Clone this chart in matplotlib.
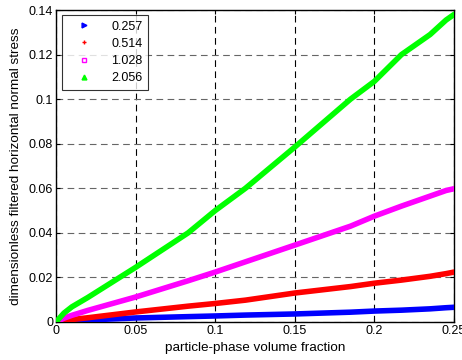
import matplotlib
matplotlib.use("Agg")
import matplotlib.pyplot as plt
from matplotlib.lines import Line2D

plt.rcParams['font.family'] = ['Liberation Sans', 'DejaVu Sans']

phi = [0, 0.005, 0.01, 0.02, 0.05, 0.083, 0.1, 0.119, 0.15, 0.185, 0.2, 0.217, 0.235, 0.245, 0.25]
s_0257 = [0, 0.0003, 0.0006, 0.0009, 0.0018, 0.0024, 0.0027, 0.0031, 0.0036, 0.0044, 0.0049, 0.0053, 0.0059, 0.0064, 0.0066]
s_0514 = [0, 0.0006, 0.0011, 0.0019, 0.0045, 0.0071, 0.0083, 0.0098, 0.013, 0.0159, 0.0174, 0.0188, 0.0205, 0.0217, 0.0224]
s_1028 = [0, 0.0017, 0.0030, 0.0052, 0.0112, 0.0185, 0.0224, 0.0270, 0.0345, 0.0430, 0.0475, 0.0520, 0.0565, 0.0590, 0.0598]
s_2056 = [0, 0.0040, 0.0068, 0.0110, 0.0245, 0.0400, 0.0500, 0.0600, 0.0785, 0.1000, 0.1080, 0.1200, 0.1290, 0.1355, 0.1380]
labels = ['0.257', '0.514', '1.028', '2.056']
colors = ['#0000ff', '#ff0000', '#ff00ff', '#00ff00']
markers = ['>', '+', 's', '^']

fig = plt.figure(figsize=(4.62, 3.6), dpi=100)
ax = fig.add_axes([0.1212, 0.1056, 0.8615, 0.8666])

series = [s_0257, s_0514, s_1028, s_2056]
for s, c in zip(series, colors):
    ax.plot(phi, s, color=c, lw=4.0, solid_capstyle='round', zorder=3)

ax.set_xlim(0, 0.25)
ax.set_ylim(0, 0.14)
ax.set_xticks([0, 0.05, 0.1, 0.15, 0.2, 0.25])
ax.set_xticklabels(['0', '0.05', '0.1', '0.15', '0.2', '0.25'])
ax.set_yticks([0, 0.02, 0.04, 0.06, 0.08, 0.1, 0.12, 0.14])
ax.set_yticklabels(['0', '0.02', '0.04', '0.06', '0.08', '0.1', '0.12', '0.14'])
ax.tick_params(direction='in', top=True, right=True, labelsize=9, length=3, pad=2)
ax.xaxis.grid(True, linestyle=(0, (6, 4)), color='k', lw=0.8)
ax.yaxis.grid(True, linestyle=(0, (6, 4)), color='#666666', lw=0.8)
ax.set_axisbelow(True)
for sp in ax.spines.values():
    sp.set_linewidth(1.0)

ax.set_xlabel('particle-phase volume fraction', fontsize=9.7, labelpad=4)
ax.set_ylabel('dimensionless filtered horizontal normal stress', fontsize=9.7, labelpad=5)

handles = [Line2D([], [], linestyle='none', marker=m, color=c, markersize=3.5,
                  markerfacecolor=('none' if m == 's' else c), markeredgewidth=1)
           for m, c in zip(markers, colors)]
leg = ax.legend(handles, labels, loc='upper left', bbox_to_anchor=(0.015, 0.984),
                fontsize=9, frameon=True, fancybox=False, edgecolor='k',
                handlelength=2.6, handletextpad=0.9, labelspacing=0.42,
                borderpad=0.45, borderaxespad=0, markerfirst=True)
leg.get_frame().set_linewidth(0.8)
leg.set_zorder(5)

fig.savefig('out.png', dpi=100)
